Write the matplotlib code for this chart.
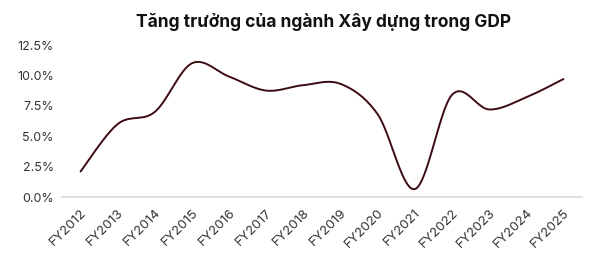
import numpy as np
import matplotlib
matplotlib.use("Agg")
import matplotlib.pyplot as plt

years = ["FY2012", "FY2013", "FY2014", "FY2015", "FY2016", "FY2017", "FY2018",
         "FY2019", "FY2020", "FY2021", "FY2022", "FY2023", "FY2024", "FY2025"]
growth = [2.1, 6.0, 7.0, 11.0, 9.9, 8.75, 9.2, 9.3, 6.8, 0.65, 8.4, 7.2, 8.2, 9.7]
yticks = [0.0, 2.5, 5.0, 7.5, 10.0, 12.5]
title = "Tăng trưởng của ngành Xây dựng trong GDP"


def smooth(x, y, n=30):
    # bezier smoothing between points, like a spreadsheet "smoothed line"
    x = np.asarray(x, float)
    y = np.asarray(y, float)
    px, py = [], []
    for i in range(len(x) - 1):
        x0, y0 = (x[i - 1], y[i - 1]) if i > 0 else (x[i], y[i])
        x3, y3 = (x[i + 2], y[i + 2]) if i + 2 < len(x) else (x[i + 1], y[i + 1])
        c1x = x[i] + (x[i + 1] - x0) / 6
        c1y = y[i] + (y[i + 1] - y0) / 6
        c2x = x[i + 1] - (x3 - x[i]) / 6
        c2y = y[i + 1] - (y3 - y[i]) / 6
        t = np.linspace(0, 1, n, endpoint=(i == len(x) - 2))
        a = (1 - t) ** 3
        b = 3 * (1 - t) ** 2 * t
        c = 3 * (1 - t) * t ** 2
        d = t ** 3
        px.extend(a * x[i] + b * c1x + c * c2x + d * x[i + 1])
        py.extend(a * y[i] + b * c1y + c * c2y + d * y[i + 1])
    return np.array(px), np.array(py)


plt.rcParams["font.family"] = ["Inter", "DejaVu Sans"]

fig = plt.figure(figsize=(5.9, 2.63), dpi=100)
ax = fig.add_axes([62 / 590, 1 - 197 / 263, 520 / 590, 152 / 263])

xs = np.arange(len(years))
sx, sy = smooth(xs, growth)
ax.plot(sx, sy, color="#3d0b12", lw=1.4, solid_capstyle="round")

ax.set_xlim(-0.5, len(years) - 0.5)
ax.set_ylim(0, 12.5)
ax.set_yticks(yticks)
ax.set_yticklabels([f"{v:.1f}%" for v in yticks], fontsize=9, color="#333333")
ax.set_xticks(xs)
ax.set_xticklabels(years, rotation=45, ha="right", rotation_mode="anchor",
                   fontsize=9.5, color="#333333")
ax.tick_params(length=0, pad=6)
ax.tick_params(axis="x", pad=7)
for s in ["top", "right", "left"]:
    ax.spines[s].set_visible(False)
ax.spines["bottom"].set_color("#d9d9d9")
ax.spines["bottom"].set_linewidth(1.2)

fig.text(324 / 590, 1 - 22 / 263, title, ha="center", va="center",
         fontsize=12.5, fontweight="bold", color="#111111")

fig.savefig("out.png", dpi=100)
